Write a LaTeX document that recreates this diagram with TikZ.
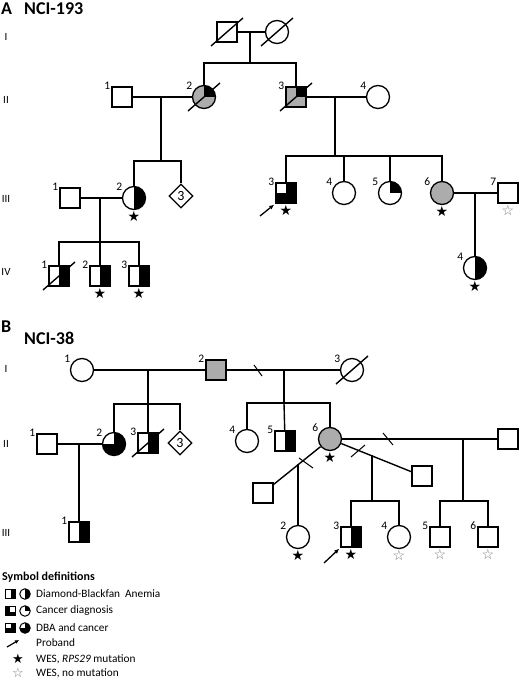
\documentclass[tikz,border=0pt]{standalone}
\usepackage{fontspec}
\setmainfont{Carlito}
\newfontfamily\symfont{DejaVu Sans}
\usetikzlibrary{arrows.meta,positioning,calc,shapes.geometric}
\definecolor{affgray}{RGB}{172,172,172}
\definecolor{nomut}{RGB}{120,120,120}

\newcommand{\deceased}[1]{\draw[rel] ($(#1)+(-16,14)$) -- ($(#1)+(16,-14)$);}

\tikzset{
  rel/.style={line width=1.4pt},
  brk/.style={line width=1pt},
  male/.style={draw,line width=1.3pt,rectangle,minimum size=20pt,inner sep=0pt,fill=white},
  female/.style={draw,line width=1.3pt,circle,minimum size=23pt,inner sep=0pt,fill=white},
  unknown/.style={draw,line width=1.3pt,diamond,minimum size=24pt,inner sep=0pt,fill=white,font=\fontsize{14}{14}\selectfont},
  num/.style={font=\fontsize{11.5}{11.5}\selectfont,inner sep=1pt,label distance=0pt},
  lab/.style={label={[num]150:#1}},
  gen/.style={font=\fontsize{11}{11}\selectfont,inner sep=0pt},
  title/.style={font=\bfseries\fontsize{18}{18}\selectfont,inner sep=0pt,anchor=west},
  legtext/.style={font=\fontsize{11.3}{11.3}\selectfont,inner sep=0pt,anchor=west},
  starlab/.style={inner sep=0pt,label distance=1.5pt,font=\symfont\fontsize{14}{14}\selectfont},
  wes/.style={label={[starlab]below:★}},
  nowes/.style={label={[starlab,text=nomut]below:☆}},
  dba/.style={path picture={\fill[black] (path picture bounding box.north) rectangle (path picture bounding box.south east);}},
  cancer/.style={path picture={\fill[black] (path picture bounding box.center) rectangle (path picture bounding box.north east);}},
  dbacan/.style={path picture={\fill[black] (path picture bounding box.north) rectangle (path picture bounding box.south east);
      \fill[black] (path picture bounding box.center) rectangle (path picture bounding box.south west);}},
  cancerkey/.style={path picture={\fill[black] (path picture bounding box.south west) rectangle (path picture bounding box.north east);
      \fill[white] ($(path picture bounding box.south west)!0.4!(path picture bounding box.north east)$) rectangle (path picture bounding box.north east);}},
  proband/.style={line width=1.3pt,-{Latex[length=5pt,width=4.5pt]},shorten >=1.5pt},
  lmale/.style={draw,line width=1pt,rectangle,minimum size=9.5pt,inner sep=0pt,fill=white},
  lfemale/.style={draw,line width=1pt,circle,minimum size=10.5pt,inner sep=0pt,fill=white}
}

\begin{document}
\begin{tikzpicture}[x=1pt,y=-1pt]
\useasboundingbox (0,0) rectangle (520,680);

% ---------------- panel A
\node[title] (tA) at (1,9) {A};
\node[title] (tAn) at (24,9) {NCI-193};
\node[gen] (gA1) at (6,37) {I};
\node[gen] (gA2) at (6,100) {II};
\node[gen] (gA3) at (6,199) {III};
\node[gen] (gA4) at (6,272) {IV};

% generation I
\node[male] (a11) at (227,32) {};
\node[female] (a12) at (277,32) {};
\draw[rel] (a11) -- (a12);
\coordinate (ma1) at (250,32);
\coordinate (sa1) at (250,63);
\draw[rel] (ma1) -- (sa1);

% generation II
\node[male,lab=1] (a21) at (122,97) {};
\node[female,fill=affgray,cancer,lab=2] (a22) at (204,97) {};
\node[male,fill=affgray,cancer,lab=3] (a23) at (296,97) {};
\node[female,lab=4] (a24) at (378,97) {};
\draw[rel] (a22) |- (sa1) -| (a23);
\draw[rel] (a21) -- (a22);
\draw[rel] (a23) -- (a24);
\coordinate (ma2) at (161,97);
\coordinate (sa2) at (161,161);
\draw[rel] (ma2) -- (sa2);
\coordinate (ma3) at (335,97);
\coordinate (sa3) at (335,156);
\draw[rel] (ma3) -- (sa3);

% generation III
\node[male,lab=1] (a31) at (70,198) {};
\node[female,dba,wes,lab=2] (a32) at (134,198) {};
\node[unknown] (a3d) at (181,196) {3};
\node[male,dbacan,wes,lab=3] (a33) at (286,193) {};
\node[female,lab=4] (a34) at (344,193) {};
\node[female,cancer,lab=5] (a35) at (390,193) {};
\node[female,fill=affgray,wes,lab=6] (a36) at (442,193) {};
\node[male,nowes,lab=7] (a37) at (508,193) {};
\draw[rel] (a32) |- (sa2) -| (a3d);
\draw[rel] (a33) |- (sa3) -| (a36);
\draw[rel] (sa3 -| a34) -- (a34);
\draw[rel] (sa3 -| a35) -- (a35);
\draw[rel] (a31) -- (a32);
\draw[rel] (a36) -- (a37);
\coordinate (ma4) at (100,198);
\coordinate (sa4) at (100,242);
\draw[rel] (ma4) -- (sa4);
\coordinate (ma5) at (475,193);
\coordinate (pa) at (260,216);
\draw[proband] (pa) -- (a33.south west);

% generation IV
\node[male,dba,lab=1] (a41) at (59,276) {};
\node[male,dba,wes,lab=2] (a42) at (100,276) {};
\node[male,dba,wes,lab=3] (a43) at (139,276) {};
\node[female,dba,wes,lab=4] (a44) at (475,268) {};
\draw[rel] (a41) |- (sa4) -| (a43);
\draw[rel] (sa4) -- (a42);
\draw[rel] (ma5) -- (a44);

\deceased{a11} \deceased{a12} \deceased{a22} \deceased{a23} \deceased{a41}

% ---------------- panel B
\node[title] (tB) at (1,327) {B};
\node[title] (tBn) at (24,338) {NCI-38};
\node[gen] (gB1) at (6,369) {I};
\node[gen] (gB2) at (6,444) {II};
\node[gen] (gB3) at (6,533) {III};

% generation I
\node[female,lab=1] (b11) at (82,370) {};
\node[male,fill=affgray,lab=2] (b12) at (216,370) {};
\node[female,lab=3] (b13) at (352,370) {};
\draw[rel] (b11) -- (b12);
\draw[rel] (b12) -- (b13);
\draw[brk] (254,365) -- (262,376);
\coordinate (mb1) at (148,370);
\coordinate (sb1) at (148,404);
\draw[rel] (mb1) -- (sb1);
\coordinate (mb2) at (284,370);
\coordinate (sb2) at (284,403);
\draw[rel] (mb2) -- (sb2);

% generation II
\node[male,lab=1] (b21) at (47,444) {};
\node[female,dbacan,lab=2] (b22) at (114,444) {};
\node[male,dba,lab=3] (b23) at (148,443) {};
\node[unknown] (b2d) at (180,443) {3};
\node[female,lab=4] (b24) at (247,441) {};
\node[male,dba,lab=5] (b25) at (285,441) {};
\node[female,fill=affgray,wes,lab=6] (b26) at (330,439) {};
\node[male] (b2l) at (263,493) {};
\node[male] (b2r) at (422,476) {};
\node[male] (b2f) at (508,439) {};
\draw[rel] (b22) |- (sb1) -| (b2d);
\draw[rel] (sb1) -- (b23);
\draw[rel] (b24) |- (sb2) -| (b26);
\draw[rel] (sb2) -- (b25);
\draw[rel] (b21) -- (b22);
\draw[rel] (b26) -- (b2f);
\draw[rel] (b26) -- (b2r);
\draw[rel] (b26) -- (b2l);
\draw[brk] (383,433) -- (393,445);
\draw[brk] (351,457) -- (365,445);
\draw[brk] (299,458) -- (313,468);
\coordinate (mb3) at (79,444);
\coordinate (mb4) at (463,439);
\coordinate (sb4) at (463,501);
\draw[rel] (mb4) -- (sb4);
\coordinate (mb5) at (372,455);
\coordinate (sb5) at (372,501);
\draw[rel] (mb5) -- (sb5);
\coordinate (mb6) at (298,464);

% generation III
\node[male,dba,lab=1] (b31) at (79,532) {};
\node[female,wes,lab=2] (b32) at (298,537) {};
\node[male,dba,wes,lab=3] (b33) at (351,537) {};
\node[female,nowes,lab=4] (b34) at (399,537) {};
\node[male,nowes,lab=5] (b35) at (440,537) {};
\node[male,nowes,lab=6] (b36) at (488,537) {};
\draw[rel] (mb3) -- (b31);
\draw[rel] (mb6) -- (b32);
\draw[rel] (b33) |- (sb5) -| (b34);
\draw[rel] (b35) |- (sb4) -| (b36);
\coordinate (pb) at (324,563);
\draw[proband] (pb) -- (b33.south west);

\deceased{b13} \deceased{b23}

% ---------------- legend
\node[font=\bfseries\fontsize{12}{12}\selectfont,inner sep=0pt,anchor=west] (lhead) at (2,577) {Symbol definitions};
\node[lmale,dba] (l1s) at (10.5,594) {};
\node[lfemale,dba] (l1c) at (25,594) {};
\node[legtext] (l1t) at (36,594) {Diamond-Blackfan\ \ Anemia};
\node[lmale,cancerkey] (l2s) at (10.5,611) {};
\node[lfemale,cancer] (l2c) at (25,611) {};
\node[legtext] (l2t) at (36,611) {Cancer diagnosis};
\node[lmale,dbacan] (l3s) at (10.5,628) {};
\node[lfemale,dbacan] (l3c) at (25,628) {};
\node[legtext] (l3t) at (36,628) {DBA and cancer};
\coordinate (l4a) at (7,647);
\coordinate (l4b) at (19,640);
\draw[line width=1.2pt,-{Latex[length=4pt,width=4pt]}] (l4a) -- (l4b);
\node[legtext] (l4t) at (36,643) {Proband};
\node[inner sep=0pt,font=\symfont\fontsize{13}{13}\selectfont] (l5s) at (18,659) {★};
\node[legtext] (l5t) at (36,659) {WES, \textit{RPS29} mutation};
\node[inner sep=0pt,text=nomut,font=\symfont\fontsize{13}{13}\selectfont] (l6s) at (18,673) {☆};
\node[legtext] (l6t) at (36,673) {WES, no mutation};
\end{tikzpicture}
\end{document}
